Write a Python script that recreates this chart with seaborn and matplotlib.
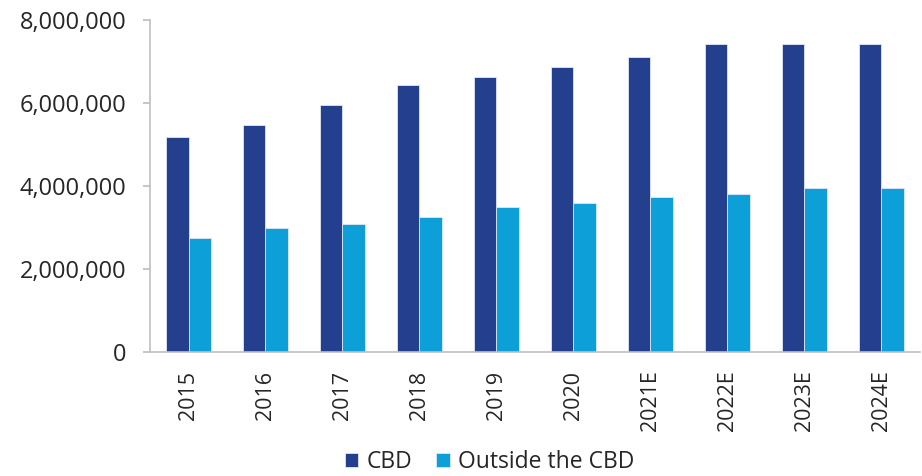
import matplotlib
matplotlib.use("Agg")
import matplotlib.pyplot as plt
import seaborn as sns
import pandas as pd
from matplotlib.ticker import FuncFormatter

years = ["2015", "2016", "2017", "2018", "2019", "2020", "2021E", "2022E", "2023E", "2024E"]
cbd = [5190000, 5470000, 5960000, 6440000, 6640000, 6860000, 7110000, 7420000, 7420000, 7420000]
outside = [2750000, 3000000, 3090000, 3250000, 3490000, 3600000, 3740000, 3810000, 3960000, 3960000]
series_names = ["CBD", "Outside the CBD"]
colors = ["#243F8E", "#0C9FD8"]

df = pd.DataFrame({
    "year": years * 2,
    "value": cbd + outside,
    "series": [series_names[0]] * len(years) + [series_names[1]] * len(years),
})

sns.set_theme(style="white")
plt.rcParams['font.family'] = ['Open Sans', 'DejaVu Sans']

fig = plt.figure(figsize=(9.22, 4.76), dpi=100)
ax = fig.add_axes([0.1627, 0.2595, 0.835, 0.6985])

sns.barplot(data=df, x="year", y="value", hue="series", palette=colors,
            width=0.58, ax=ax, edgecolor="#dfe6f5", linewidth=0.6, saturation=1)

ax.set_ylim(0, 8000000)
ax.set_xlim(-0.5, len(years) - 0.5)
ax.set_yticks([0, 2000000, 4000000, 6000000, 8000000])
ax.yaxis.set_major_formatter(FuncFormatter(lambda v, p: f"{int(v):,}"))
ax.set_xlabel("")
ax.set_ylabel("")
for s in ["top", "right"]:
    ax.spines[s].set_visible(False)
for s in ["left", "bottom"]:
    ax.spines[s].set_color("#BFBFBF")
    ax.spines[s].set_linewidth(1.2)
ax.tick_params(axis="y", left=True, length=5, color="#BFBFBF", labelsize=17, labelcolor="#262626", pad=12)
ax.tick_params(axis="x", bottom=False, length=0, labelsize=15.5, labelcolor="#262626", pad=13)
plt.setp(ax.get_xticklabels(), rotation=90)

handles, labels = ax.get_legend_handles_labels()
ax.get_legend().remove()
fig.legend(handles, labels, loc="center", bbox_to_anchor=(0.531, 0.029), ncol=2, frameon=False,
           fontsize=16.5, handlelength=0.6, handleheight=0.6, handletextpad=0.35,
           columnspacing=1.05, labelcolor="#262626", borderpad=0, borderaxespad=0)

fig.savefig("out.png", dpi=100)
